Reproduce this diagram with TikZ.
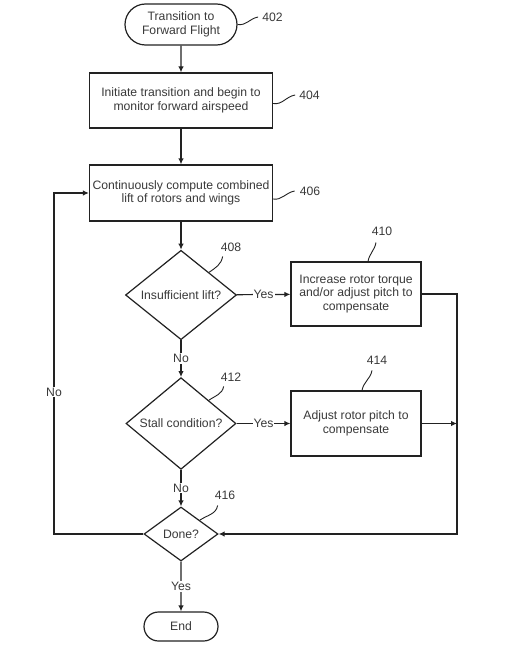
\documentclass[tikz,border=0pt]{standalone}
\usepackage{fontspec}
\setmainfont{Liberation Sans}
\usetikzlibrary{shapes.geometric,shapes.misc,arrows.meta}
\definecolor{ln}{HTML}{222222}
\definecolor{tx}{HTML}{3A3A3A}
\begin{document}
\begin{tikzpicture}[x=1pt,y=-1pt,
  font=\fontsize{12.2}{13.6}\selectfont,
  every node/.style={text=tx},
  line/.style={draw=ln, line width=1.2pt},
  arr/.style={line, -{Latex[length=6pt,width=5.5pt]}},
  sq/.style={draw=ln, line width=0.9pt},
  term/.style={rounded rectangle, draw=ln, line width=1.2pt, align=center, inner sep=0pt},
  box/.style={rectangle, draw=ln, line width=1.2pt, align=center, inner sep=0pt},
  dia/.style={diamond, draw=ln, line width=1.2pt, align=center, inner sep=0pt},
  lbl/.style={fill=white, inner sep=1pt},
  num/.style={inner sep=0pt}]
\useasboundingbox (0,0) rectangle (532,650);
\fill[white] (0,0) rectangle (532,650);

% main nodes
\node[term, minimum width=112pt, minimum height=41pt] (s402) at (181,24.5) {Transition to\\Forward Flight};
\node[box, minimum width=183pt, minimum height=55pt] (b404) at (181,100.5) {Initiate transition and begin to\\monitor forward airspeed};
\node[box, minimum width=183pt, minimum height=56pt] (b406) at (181,193) {Continuously compute combined\\lift of rotors and wings};
\node[dia, minimum width=111pt, minimum height=82pt] (d408) at (181,295) {Insufficient lift?};
\node[box, minimum width=130pt, minimum height=64pt] (b410) at (356,294) {Increase rotor torque\\and/or adjust pitch to\\compensate};
\node[dia, minimum width=110pt, minimum height=83pt] (d412) at (181,423.5) {Stall condition?};
\node[box, minimum width=130pt, minimum height=65pt] (b414) at (356,423.5) {Adjust rotor pitch to\\compensate};
\node[dia, minimum width=74pt, minimum height=54pt] (d416) at (181,534) {Done?};
\node[term, minimum width=74pt, minimum height=29pt] (end) at (181,626.5) {End};

% reference numbers
\node[num] (n402) at (272.5,17) {402};
\node[num] (n404) at (309.5,95) {404};
\node[num] (n406) at (310,191) {406};
\node[num] (n408) at (231,247) {408};
\node[num] (n410) at (382,231) {410};
\node[num] (n412) at (231,377) {412};
\node[num] (n414) at (377,360) {414};
\node[num] (n416) at (225,495) {416};

\draw[sq] (s402.east) to[out=-10,in=190] ([xshift=-4pt]n402.west);
\draw[sq] ([yshift=-3pt]b404.east) to[out=-10,in=190] ([xshift=-4pt]n404.west);
\draw[sq] ([yshift=-6pt]b406.east) to[out=-10,in=190] ([xshift=-5pt]n406.west);
\draw[sq] (d408.north east) to[out=35,in=-100] ([xshift=2pt,yshift=-5pt]n408.south west);
\draw[sq] ([xshift=12pt]b410.north) to[out=80,in=-100] ([xshift=-6pt,yshift=-7pt]n410.south);
\draw[sq] (d412.north east) to[out=35,in=-100] ([xshift=3pt,yshift=-5pt]n412.south west);
\draw[sq] ([xshift=6pt]b414.north) to[out=80,in=-100] ([xshift=-5pt,yshift=-6pt]n414.south);
\draw[sq] (d416.north east) to[out=35,in=-100] ([xshift=3pt,yshift=-6pt]n416.south west);

% connectors
\coordinate (rb) at (457,534);
\coordinate (lt) at (54,193);
\draw[arr] (s402) -- (b404);
\draw[arr] (b404) -- (b406);
\draw[arr] (b406) -- (d408);
\draw[arr] (d408) -- node[lbl]{Yes} (b410);
\draw[arr] (d408) -- node[lbl]{No} (d412);
\draw[arr] (d412) -- node[lbl]{Yes} (b414);
\draw[arr] (d412) -- node[lbl]{No} (d416);
\draw[arr] (d416) -- node[lbl]{Yes} (end);
\draw[arr] (b410.east) -| (rb) -- (d416.east);
\draw[arr] (b414.east) -- (b414.east -| rb);
\draw[arr] (d416.west) -| node[lbl, pos=0.708]{No} (lt) -- (b406.west);
\end{tikzpicture}
\end{document}
